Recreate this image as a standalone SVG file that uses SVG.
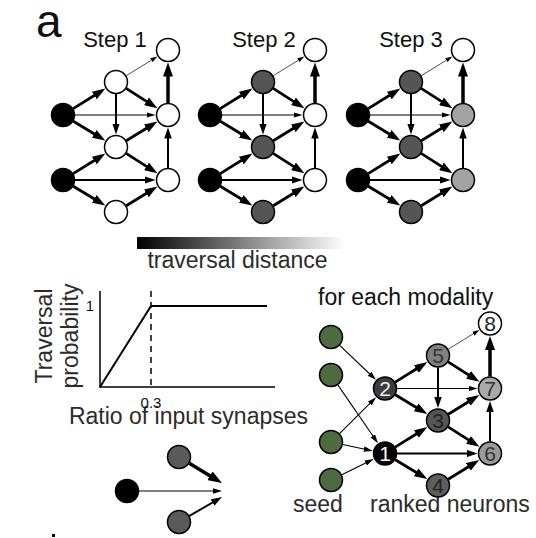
<svg xmlns="http://www.w3.org/2000/svg" width="536" height="538" viewBox="0 0 536 538">
<style>
.n{stroke:#000;stroke-width:1.5}
.w{fill:#fff}.b{fill:#000}.g{fill:#555}.lg{fill:#a3a3a3}.gr{fill:#4e6a3f}
.e{fill:none;stroke:#000}
.k1{stroke-width:0.7;marker-end:url(#ahXS)}
.k2{stroke-width:1.1;marker-end:url(#ahS)}
.k3{stroke-width:2;marker-end:url(#ahM)}
.k4{stroke-width:2.8;marker-end:url(#ahL)}
.k5{stroke-width:3.5;marker-end:url(#ahXL)}
.t{font-family:"Liberation Sans",Arial,Helvetica,sans-serif;fill:#111}
.lt{font-family:"Liberation Sans",Arial,Helvetica,sans-serif;fill:#2b2b2b;font-size:23px}
.nl{font-family:"Liberation Sans",Arial,Helvetica,sans-serif;font-size:21px;text-anchor:middle}
</style>
<defs>
<marker id="ahXS" markerUnits="userSpaceOnUse" viewBox="0 0 7 4.5" markerWidth="7" markerHeight="4.5" refX="3.5" refY="2.25" orient="auto"><path d="M0,0L7,2.25L0,4.5z"/></marker>
<marker id="ahS" markerUnits="userSpaceOnUse" viewBox="0 0 9 5.5" markerWidth="9" markerHeight="5.5" refX="4.5" refY="2.75" orient="auto"><path d="M0,0L9,2.75L0,5.5z"/></marker>
<marker id="ahM" markerUnits="userSpaceOnUse" viewBox="0 0 11 7.5" markerWidth="11" markerHeight="7.5" refX="5.5" refY="3.75" orient="auto"><path d="M0,0L11,3.75L0,7.5z"/></marker>
<marker id="ahL" markerUnits="userSpaceOnUse" viewBox="0 0 13 9" markerWidth="13" markerHeight="9" refX="6.5" refY="4.5" orient="auto"><path d="M0,0L13,4.5L0,9z"/></marker>
<marker id="ahXL" markerUnits="userSpaceOnUse" viewBox="0 0 14 10" markerWidth="14" markerHeight="10" refX="7" refY="5" orient="auto"><path d="M0,0L14,5L0,10z"/></marker>
<linearGradient id="grad" x1="0" y1="0" x2="1" y2="0">
<stop offset="0" stop-color="#000"/><stop offset="1" stop-color="#fff"/>
</linearGradient>
</defs>
<rect width="536" height="538" fill="#fff"/>

<g id="labels">
<text class="t" x="36" y="36.5" font-size="46">a</text>
<text class="t" x="115" y="46.5" font-size="22" text-anchor="middle">Step 1</text>
<text class="t" x="264" y="46.5" font-size="22" text-anchor="middle">Step 2</text>
<text class="t" x="411" y="46.5" font-size="22" text-anchor="middle">Step 3</text>
<text class="lt" x="237.5" y="267.5" text-anchor="middle">traversal distance</text>
<text class="lt" transform="translate(51.5,336) rotate(-90)" text-anchor="middle">Traversal</text>
<text class="lt" transform="translate(77.5,336) rotate(-90)" text-anchor="middle">probability</text>
<text class="lt" x="188.5" y="424" text-anchor="middle">Ratio of input synapses</text>
<text class="t" x="90" y="310.5" font-size="15" text-anchor="middle" fill="#333">1</text>
<text class="t" x="151" y="407.5" font-size="15" text-anchor="middle" fill="#333">0.3</text>
<text class="t" x="318" y="305" font-size="23">for each modality</text>
<text class="lt" x="293" y="512">seed</text>
<text class="lt" x="370" y="512">ranked neurons</text>
</g>

<rect id="gradient-bar" x="137" y="237" width="208" height="12" fill="url(#grad)"/>

<g id="plot" fill="none" stroke="#000">
<path d="M100,291V387H275" stroke-width="1.5"/>
<path d="M151,291V387" stroke-width="1.5" stroke-dasharray="6,5"/>
<path d="M100,387L151,306H267" stroke-width="2"/>
</g>

<rect id="mark" x="52" y="534" width="3" height="3" fill="#000"/>

<g id="connectors">
<g id="edges-step1">
<path class="e k4" d="M73.19,108.66L99.87,92.05"/>
<path class="e k2" d="M75,115L151,115"/>
<path class="e k4" d="M73.27,121.2L99.74,137.18"/>
<path class="e k1" d="M126.22,75.71L154.37,58.38"/>
<path class="e k4" d="M126.13,88.43L151.96,104.82"/>
<path class="e k3" d="M116,94L116,129"/>
<path class="e k4" d="M126.22,140.71L151.81,124.96"/>
<path class="e k4" d="M126.13,153.43L151.96,169.82"/>
<path class="e k4" d="M73.19,173.66L99.87,157.05"/>
<path class="e k3" d="M75,180L150,180"/>
<path class="e k4" d="M73.27,186.2L99.74,202.18"/>
<path class="e k4" d="M126.22,205.71L151.81,189.96"/>
<path class="e k3" d="M168,168L168,133"/>
<path class="e k5" d="M168,103L168,69.5"/>
</g>
<g id="edges-step2" transform="translate(147,0)">
<path class="e k4" d="M73.19,108.66L99.87,92.05"/>
<path class="e k2" d="M75,115L151,115"/>
<path class="e k4" d="M73.27,121.2L99.74,137.18"/>
<path class="e k1" d="M126.22,75.71L154.37,58.38"/>
<path class="e k4" d="M126.13,88.43L151.96,104.82"/>
<path class="e k3" d="M116,94L116,129"/>
<path class="e k4" d="M126.22,140.71L151.81,124.96"/>
<path class="e k4" d="M126.13,153.43L151.96,169.82"/>
<path class="e k4" d="M73.19,173.66L99.87,157.05"/>
<path class="e k3" d="M75,180L150,180"/>
<path class="e k4" d="M73.27,186.2L99.74,202.18"/>
<path class="e k4" d="M126.22,205.71L151.81,189.96"/>
<path class="e k3" d="M168,168L168,133"/>
<path class="e k5" d="M168,103L168,69.5"/>
</g>
<g id="edges-step3" transform="translate(295,0)">
<path class="e k4" d="M73.19,108.66L99.87,92.05"/>
<path class="e k2" d="M75,115L151,115"/>
<path class="e k4" d="M73.27,121.2L99.74,137.18"/>
<path class="e k1" d="M126.22,75.71L154.37,58.38"/>
<path class="e k4" d="M126.13,88.43L151.96,104.82"/>
<path class="e k3" d="M116,94L116,129"/>
<path class="e k4" d="M126.22,140.71L151.81,124.96"/>
<path class="e k4" d="M126.13,153.43L151.96,169.82"/>
<path class="e k4" d="M73.19,173.66L99.87,157.05"/>
<path class="e k3" d="M75,180L150,180"/>
<path class="e k4" d="M73.27,186.2L99.74,202.18"/>
<path class="e k4" d="M126.22,205.71L151.81,189.96"/>
<path class="e k3" d="M168,168L168,133"/>
<path class="e k5" d="M168,103L168,69.5"/>
</g>
<g id="edges-modality" transform="translate(322,273.5)">
<path class="e k4" d="M73.19,108.66L99.87,92.05"/>
<path class="e k2" d="M75,115L151,115"/>
<path class="e k4" d="M73.27,121.2L99.74,137.18"/>
<path class="e k1" d="M126.22,75.71L154.37,58.38"/>
<path class="e k4" d="M126.13,88.43L151.96,104.82"/>
<path class="e k3" d="M116,94L116,129"/>
<path class="e k4" d="M126.22,140.71L151.81,124.96"/>
<path class="e k4" d="M126.13,153.43L151.96,169.82"/>
<path class="e k4" d="M73.19,173.66L99.87,157.05"/>
<path class="e k3" d="M75,180L150,180"/>
<path class="e k4" d="M73.27,186.2L99.74,202.18"/>
<path class="e k4" d="M126.22,205.71L151.81,189.96"/>
<path class="e k3" d="M168,168L168,133"/>
<path class="e k5" d="M168,103L168,69.5"/>
</g>
<g id="edges-seed">
<path class="e k2" d="M339.68,345.28L372.69,376.76"/>
<path class="e k2" d="M337.8,384.89L375.37,439.49"/>
<path class="e k2" d="M339.52,433.55L372.92,400.47"/>
<path class="e k2" d="M342.74,444.5L368.37,449.96"/>
<path class="e k2" d="M341.77,474.71L369.74,460.99"/>
</g>
<g id="edges-inputs">
<path class="e k2" d="M139,491L217.5,491"/>
<path class="e k5" d="M189.27,463.21L216.01,479.38"/>
<path class="e k3" d="M189.37,515.97L217.25,499.76"/>
</g>
</g>

<g id="nodes-step1">
<g id="s1-a"><circle class="n b" cx="63" cy="115" r="11.5"/></g>
<g id="s1-b"><circle class="n b" cx="63" cy="180" r="11.5"/></g>
<g id="s1-c"><circle class="n w" cx="116" cy="82" r="11.5"/></g>
<g id="s1-d"><circle class="n w" cx="116" cy="147" r="11.5"/></g>
<g id="s1-e"><circle class="n w" cx="116" cy="212" r="11.5"/></g>
<g id="s1-f"><circle class="n w" cx="168" cy="50" r="11.5"/></g>
<g id="s1-g"><circle class="n w" cx="168" cy="115" r="11.5"/></g>
<g id="s1-h"><circle class="n w" cx="168" cy="180" r="11.5"/></g>
</g>
<g id="nodes-step2">
<g id="s2-a"><circle class="n b" cx="210" cy="115" r="11.5"/></g>
<g id="s2-b"><circle class="n b" cx="210" cy="180" r="11.5"/></g>
<g id="s2-c"><circle class="n g" cx="263" cy="82" r="11.5"/></g>
<g id="s2-d"><circle class="n g" cx="263" cy="147" r="11.5"/></g>
<g id="s2-e"><circle class="n g" cx="263" cy="212" r="11.5"/></g>
<g id="s2-f"><circle class="n w" cx="315" cy="50" r="11.5"/></g>
<g id="s2-g"><circle class="n w" cx="315" cy="115" r="11.5"/></g>
<g id="s2-h"><circle class="n w" cx="315" cy="180" r="11.5"/></g>
</g>
<g id="nodes-step3">
<g id="s3-a"><circle class="n b" cx="358" cy="115" r="11.5"/></g>
<g id="s3-b"><circle class="n b" cx="358" cy="180" r="11.5"/></g>
<g id="s3-c"><circle class="n g" cx="411" cy="82" r="11.5"/></g>
<g id="s3-d"><circle class="n g" cx="411" cy="147" r="11.5"/></g>
<g id="s3-e"><circle class="n g" cx="411" cy="212" r="11.5"/></g>
<g id="s3-f"><circle class="n w" cx="463" cy="50" r="11.5"/></g>
<g id="s3-g"><circle class="n lg" cx="463" cy="115" r="11.5"/></g>
<g id="s3-h"><circle class="n lg" cx="463" cy="180" r="11.5"/></g>
</g>

<g id="nodes-seed">
<g id="seed-1"><circle class="n gr" cx="331" cy="337" r="11.5"/></g>
<g id="seed-2"><circle class="n gr" cx="331" cy="375" r="11.5"/></g>
<g id="seed-3"><circle class="n gr" cx="331" cy="442" r="11.5"/></g>
<g id="seed-4"><circle class="n gr" cx="331" cy="480" r="11.5"/></g>
</g>
<g id="nodes-ranked">
<g id="rank-1"><circle class="n" fill="#000" cx="385" cy="453.5" r="11.5"/><text class="nl" x="385" y="461" fill="#fff">1</text></g>
<g id="rank-2"><circle class="n" fill="#3c3c3c" cx="385" cy="388.5" r="11.5"/><text class="nl" x="385" y="396" fill="#eee">2</text></g>
<g id="rank-3"><circle class="n" fill="#555" cx="438" cy="420.5" r="11.5"/><text class="nl" x="438" y="428" fill="#222">3</text></g>
<g id="rank-4"><circle class="n" fill="#5e5e5e" cx="438" cy="485.5" r="11.5"/><text class="nl" x="438" y="493" fill="#222">4</text></g>
<g id="rank-5"><circle class="n" fill="#808080" cx="438" cy="355.5" r="11.5"/><text class="nl" x="438" y="363" fill="#333">5</text></g>
<g id="rank-6"><circle class="n" fill="#9a9a9a" cx="490" cy="453.5" r="11.5"/><text class="nl" x="490" y="461" fill="#333">6</text></g>
<g id="rank-7"><circle class="n" fill="#a9a9a9" cx="490" cy="388.5" r="11.5"/><text class="nl" x="490" y="396" fill="#333">7</text></g>
<g id="rank-8"><circle class="n" fill="#fff" cx="490" cy="323.5" r="11.5"/><text class="nl" x="490" y="331" fill="#222">8</text></g>
</g>

<g id="nodes-inputs">
<g id="in-black"><circle class="n b" cx="127" cy="491" r="11.5"/></g>
<g id="in-top"><circle class="n" fill="#5a5a5a" cx="179" cy="457" r="11.5"/></g>
<g id="in-bottom"><circle class="n" fill="#5a5a5a" cx="179" cy="522" r="11.5"/></g>
</g>
</svg>
